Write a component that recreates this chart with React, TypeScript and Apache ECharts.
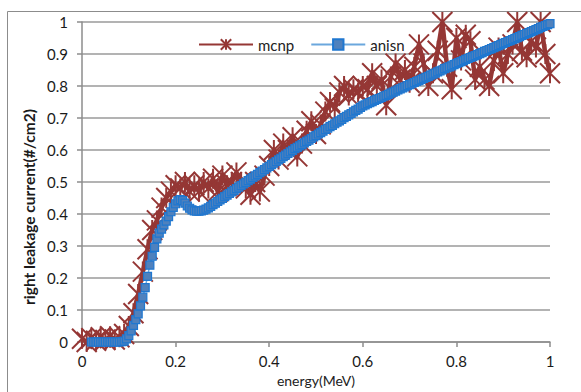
import React, { useEffect, useRef } from "react";
import * as echarts from "echarts";

const xTicks = ["0", "0.2", "0.4", "0.6", "0.8", "1"];
const yTicks = ["0", "0.1", "0.2", "0.3", "0.4", "0.5", "0.6", "0.7", "0.8", "0.9", "1"];
const seriesNames = ["mcnp", "anisn"];
const xTitle = "energy(MeV)";
const yTitle = "right leakage current(#/cm2)";

const mcnp: [number, number][] = [
  [0.0, 0.01], [0.01, 0.0], [0.02, 0.012], [0.03, 0.004], [0.04, 0.015], [0.05, 0.006],
  [0.06, 0.018], [0.07, 0.008], [0.08, 0.015], [0.09, 0.025], [0.1, 0.05], [0.11, 0.09],
  [0.12, 0.15], [0.13, 0.22], [0.14, 0.29], [0.15, 0.35], [0.16, 0.38], [0.17, 0.42],
  [0.18, 0.45], [0.19, 0.47], [0.2, 0.49], [0.21, 0.48], [0.22, 0.5], [0.23, 0.47],
  [0.24, 0.49], [0.25, 0.47], [0.26, 0.5], [0.27, 0.48], [0.28, 0.51], [0.29, 0.47],
  [0.3, 0.52], [0.31, 0.49], [0.32, 0.5], [0.33, 0.53], [0.34, 0.5], [0.35, 0.48],
  [0.36, 0.46], [0.37, 0.5], [0.38, 0.47], [0.39, 0.52], [0.4, 0.55], [0.41, 0.6],
  [0.42, 0.57], [0.43, 0.62], [0.44, 0.6], [0.45, 0.64], [0.46, 0.58], [0.47, 0.62],
  [0.48, 0.66], [0.49, 0.69], [0.5, 0.65], [0.51, 0.68], [0.52, 0.72], [0.53, 0.75],
  [0.54, 0.73], [0.55, 0.78], [0.56, 0.8], [0.57, 0.77], [0.58, 0.79], [0.59, 0.78],
  [0.6, 0.8], [0.61, 0.79], [0.62, 0.84], [0.63, 0.8], [0.64, 0.82], [0.65, 0.74],
  [0.66, 0.83], [0.67, 0.87], [0.68, 0.82], [0.69, 0.85], [0.7, 0.81], [0.71, 0.86],
  [0.72, 0.93], [0.73, 0.87], [0.74, 0.8], [0.75, 0.84], [0.76, 0.91], [0.77, 1.0],
  [0.78, 0.86], [0.79, 0.79], [0.8, 0.95], [0.81, 0.88], [0.82, 0.96], [0.83, 0.94],
  [0.84, 0.82], [0.85, 0.86], [0.86, 0.82], [0.87, 0.8], [0.88, 0.88], [0.89, 0.92],
  [0.9, 0.84], [0.91, 0.9], [0.92, 0.93], [0.93, 1.0], [0.94, 0.91], [0.95, 0.89],
  [0.96, 0.94], [0.97, 0.92], [0.98, 1.0], [0.99, 0.9], [1.0, 0.84],
];

const anisn: [number, number][] = [
  [0.02, 0], [0.025, 0], [0.03, 0], [0.035, 0], [0.04, 0], [0.045, 0], [0.05, 0],
  [0.055, 0], [0.06, 0], [0.065, 0], [0.07, 0], [0.075, 0], [0.08, 0], [0.085, 0.001],
  [0.09, 0.003], [0.095, 0.01], [0.1, 0.02], [0.105, 0.035], [0.11, 0.052], [0.115, 0.07],
  [0.12, 0.088], [0.125, 0.113], [0.13, 0.14], [0.135, 0.17], [0.14, 0.205], [0.145, 0.24],
  [0.15, 0.268], [0.155, 0.296], [0.16, 0.322], [0.165, 0.34], [0.17, 0.353], [0.175, 0.366],
  [0.18, 0.378], [0.185, 0.392], [0.19, 0.407], [0.195, 0.421], [0.2, 0.432], [0.205, 0.441],
  [0.21, 0.445], [0.215, 0.442], [0.22, 0.434], [0.225, 0.425], [0.23, 0.418], [0.235, 0.413],
  [0.24, 0.41], [0.245, 0.409], [0.25, 0.409], [0.255, 0.41], [0.26, 0.412], [0.265, 0.415],
  [0.27, 0.419], [0.275, 0.424], [0.28, 0.429], [0.285, 0.434], [0.29, 0.439], [0.295, 0.444],
  [0.3, 0.449], [0.305, 0.454], [0.31, 0.459], [0.315, 0.464], [0.32, 0.469], [0.325, 0.474],
  [0.33, 0.479], [0.335, 0.484], [0.34, 0.489], [0.345, 0.494], [0.35, 0.499], [0.355, 0.504],
  [0.36, 0.509], [0.365, 0.514], [0.37, 0.519], [0.375, 0.524], [0.38, 0.529], [0.385, 0.534],
  [0.39, 0.539], [0.395, 0.544], [0.4, 0.549], [0.405, 0.554], [0.41, 0.559], [0.415, 0.564],
  [0.42, 0.569], [0.425, 0.574], [0.43, 0.579], [0.435, 0.584], [0.44, 0.589], [0.445, 0.594],
  [0.45, 0.599], [0.455, 0.604], [0.46, 0.608], [0.465, 0.613], [0.47, 0.617], [0.475, 0.622],
  [0.48, 0.627], [0.485, 0.631], [0.49, 0.636], [0.495, 0.641], [0.5, 0.645], [0.505, 0.65],
  [0.51, 0.654], [0.515, 0.659], [0.52, 0.664], [0.525, 0.668], [0.53, 0.673], [0.535, 0.677],
  [0.54, 0.682], [0.545, 0.687], [0.55, 0.691], [0.555, 0.696], [0.56, 0.701], [0.565, 0.705],
  [0.57, 0.71], [0.575, 0.714], [0.58, 0.719], [0.585, 0.724], [0.59, 0.728], [0.595, 0.733],
  [0.6, 0.738], [0.605, 0.741], [0.61, 0.745], [0.615, 0.748], [0.62, 0.751], [0.625, 0.755],
  [0.63, 0.758], [0.635, 0.761], [0.64, 0.764], [0.645, 0.768], [0.65, 0.771], [0.655, 0.774],
  [0.66, 0.778], [0.665, 0.781], [0.67, 0.784], [0.675, 0.788], [0.68, 0.791], [0.685, 0.794],
  [0.69, 0.797], [0.695, 0.801], [0.7, 0.804], [0.705, 0.807], [0.71, 0.811], [0.715, 0.814],
  [0.72, 0.817], [0.725, 0.821], [0.73, 0.824], [0.735, 0.827], [0.74, 0.83], [0.745, 0.834],
  [0.75, 0.837], [0.755, 0.84], [0.76, 0.844], [0.765, 0.847], [0.77, 0.85], [0.775, 0.854],
  [0.78, 0.857], [0.785, 0.86], [0.79, 0.863], [0.795, 0.867], [0.8, 0.87], [0.805, 0.873],
  [0.81, 0.876], [0.815, 0.879], [0.82, 0.883], [0.825, 0.886], [0.83, 0.889], [0.835, 0.892],
  [0.84, 0.895], [0.845, 0.898], [0.85, 0.901], [0.855, 0.904], [0.86, 0.908], [0.865, 0.911],
  [0.87, 0.914], [0.875, 0.917], [0.88, 0.92], [0.885, 0.923], [0.89, 0.926], [0.895, 0.929],
  [0.9, 0.933], [0.905, 0.936], [0.91, 0.939], [0.915, 0.942], [0.92, 0.945], [0.925, 0.948],
  [0.93, 0.951], [0.935, 0.954], [0.94, 0.958], [0.945, 0.961], [0.95, 0.964], [0.955, 0.967],
  [0.96, 0.97], [0.965, 0.973], [0.97, 0.976], [0.975, 0.979], [0.98, 0.983], [0.985, 0.986],
  [0.99, 0.989], [0.995, 0.992], [1.0, 0.995],
];

const STAR = "path://M0,0L10,10M10,0L0,10M5,0L5,10";
const FONT = "Lato, 'Open Sans', sans-serif";

export default function App() {
  const ref = useRef<HTMLDivElement>(null);
  useEffect(() => {
    if (!ref.current) return;
    const chart = echarts.init(ref.current, undefined, { renderer: "svg" });
    chart.setOption({
      animation: false,
      backgroundColor: "#ffffff",
      textStyle: { fontFamily: FONT },
      graphic: [
        {
          type: "rect",
          shape: { x: 7.5, y: 11.5, width: 620, height: 420 },
          style: { fill: "none", stroke: "#8c8c8c", lineWidth: 1 },
          silent: true,
          z: -10,
        },
        {
          type: "text",
          x: 29,
          y: 207,
          rotation: Math.PI / 2,
          silent: true,
          style: {
            text: yTitle,
            fontSize: 15.5,
            fontWeight: "bold",
            fontFamily: FONT,
            fill: "#1a1a1a",
            align: "center",
            verticalAlign: "middle",
          },
        },
      ],
      legend: {
        top: 32,
        left: 193,
        itemWidth: 54,
        itemHeight: 13,
        itemGap: 16,
        textStyle: { fontSize: 15, color: "#222", fontFamily: FONT },
        data: seriesNames,
      },
      grid: { left: 82, right: 31, top: 22, bottom: 41, containLabel: false },
      xAxis: {
        type: "value",
        min: 0,
        max: 1,
        interval: 0.2,
        name: xTitle,
        nameLocation: "middle",
        nameGap: 31,
        nameTextStyle: { fontSize: 14, color: "#222", fontFamily: FONT },
        axisLine: { show: true, onZero: false, lineStyle: { color: "#8c8c8c", width: 1.5 } },
        axisTick: { show: true, length: 5, lineStyle: { color: "#8c8c8c", width: 1.5 } },
        axisLabel: {
          fontSize: 15,
          color: "#1a1a1a",
          margin: 11,
          fontFamily: FONT,
          formatter: (v: number) => xTicks[Math.round(v / 0.2)] ?? "",
        },
        splitLine: { show: false },
      },
      yAxis: {
        type: "value",
        min: 0,
        max: 1,
        interval: 0.1,
        axisLine: { show: true, lineStyle: { color: "#8c8c8c", width: 1.5 } },
        axisTick: { show: true, length: 5, lineStyle: { color: "#8c8c8c", width: 1.5 } },
        axisLabel: {
          fontSize: 15,
          color: "#1a1a1a",
          margin: 14,
          fontFamily: FONT,
          formatter: (v: number) => yTicks[Math.round(v / 0.1)] ?? "",
        },
        splitLine: { show: true, lineStyle: { color: "#9a9a9a", width: 1.5 } },
      },
      series: [
        {
          name: seriesNames[0],
          type: "line",
          data: mcnp,
          clip: false,
          symbol: STAR,
          symbolSize: 20,
          lineStyle: { color: "#953735", width: 4.5 },
          itemStyle: { color: "#953735", borderColor: "#953735", borderWidth: 2 },
        },
        {
          name: seriesNames[1],
          type: "line",
          data: anisn,
          clip: false,
          symbol: "rect",
          symbolSize: 8,
          lineStyle: { color: "#6ba7dd", width: 1.5 },
          itemStyle: { color: "#4f81bd", borderColor: "#1f77d0", borderWidth: 1.2 },
        },
      ],
    });
    return () => chart.dispose();
  }, []);
  return <div ref={ref} style={{ width: 581, height: 392, position: "absolute", left: 0, top: 0 }} />;
}
